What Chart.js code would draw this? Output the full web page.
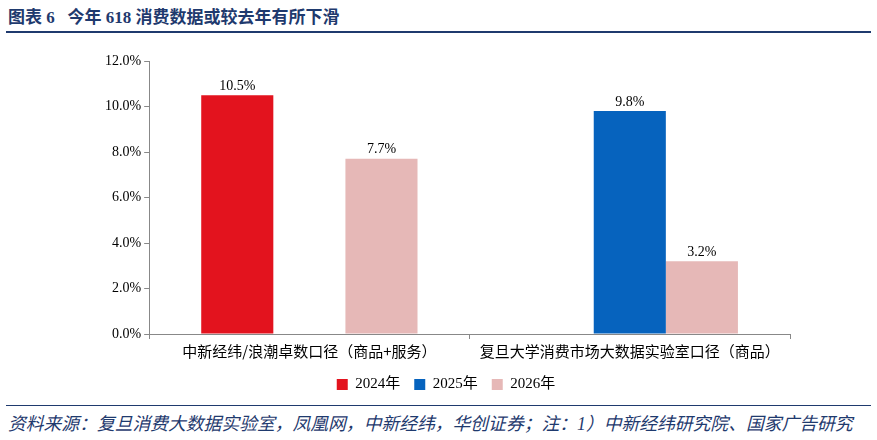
<!DOCTYPE html>
<html>
<head>
<meta charset="utf-8">
<script src="https://cdn.jsdelivr.net/npm/chart.js@4/dist/chart.umd.min.js"></script>
<style>
  body { margin: 0; width: 877px; height: 440px; background: #fff; font-family: "Liberation Serif", "Noto Sans CJK SC", serif; position: relative; overflow: hidden; }
  #title { position: absolute; left: 8px; top: 3px; font-size: 17px; font-weight: bold; color: #1F3A6E; }
  #rule1 { position: absolute; left: 6px; right: 6px; top: 31px; border-top: 2px solid #1F3A6E; }
  #rule2 { position: absolute; left: 6px; right: 6px; top: 405px; border-top: 1.5px solid #1F3A6E; }
  #foot { position: absolute; left: 8px; top: 409px; font-size: 17.8px; font-style: italic; color: #1F3A6E; white-space: nowrap; }
  #wrap { position: absolute; left: 0; top: 40px; width: 877px; height: 362px; }
</style>
</head>
<body>
<div id="title">图表 6&nbsp;&nbsp;&nbsp;今年 618 消费数据或较去年有所下滑</div>
<div id="rule1"></div>
<div id="wrap"><canvas id="c"></canvas></div>
<div id="rule2"></div>
<div id="foot">资料来源：复旦消费大数据实验室，凤凰网，中新经纬，华创证券；注：1）中新经纬研究院、国家广告研究</div>
<script>
const categories = ["中新经纬/浪潮卓数口径（商品+服务）", "复旦大学消费市场大数据实验室口径（商品）"];
const seriesNames = ["2024年", "2025年", "2026年"];
const values2024 = [10.5, null];
const values2025 = [null, 9.8];
const values2026 = [7.7, 3.2];
const colours = ["#E3131E", "#0663BE", "#E6B8B7"];

const labelPlugin = {
  id: "labels",
  afterDatasetsDraw(chart) {
    const ctx = chart.ctx;
    ctx.save();
    ctx.font = "14px 'Liberation Serif', serif";
    ctx.fillStyle = "#000";
    ctx.textAlign = "center";
    chart.data.datasets.forEach((ds, i) => {
      chart.getDatasetMeta(i).data.forEach((bar, j) => {
        if (ds.data[j] == null) return;
        ctx.fillText(ds.data[j].toFixed(1) + "%", bar.x, bar.y - 9);
      });
    });
    ctx.restore();
  }
};

new Chart(document.getElementById("c").getContext("2d"), {
  type: "bar",
  data: {
    labels: categories,
    datasets: [values2024, values2025, values2026].map((d, i) => ({
      label: seriesNames[i],
      data: d,
      backgroundColor: colours[i],
      categoryPercentage: 0.675,
      barPercentage: 1.0,
    })),
  },
  options: {
    responsive: true,
    maintainAspectRatio: false,
    animation: false,
    layout: { padding: { top: 21, left: 102, right: 87, bottom: 0 } },
    plugins: {
      legend: {
        position: "bottom",
        labels: { boxWidth: 11, boxHeight: 11, color: "#000", font: { size: 15, family: "'Liberation Serif', 'Noto Sans CJK SC', serif" }, padding: 14 },
      },
      tooltip: { enabled: false },
    },
    scales: {
      x: {
        grid: { display: true, drawOnChartArea: false, offset: true, color: "#888", tickLength: 5 },
        border: { color: "#888" },
        ticks: { color: "#000", font: { size: 15, family: "'Noto Sans CJK SC', serif" } },
      },
      y: {
        min: 0,
        max: 12,
        ticks: { stepSize: 2, color: "#000", font: { size: 14, family: "'Liberation Serif', serif" }, callback: (v) => v.toFixed(1) + "%" },
        grid: { display: true, drawOnChartArea: false, color: "#888", tickLength: 5 },
        border: { color: "#888" },
      },
    },
  },
  plugins: [labelPlugin],
});
</script>
</body>
</html>
